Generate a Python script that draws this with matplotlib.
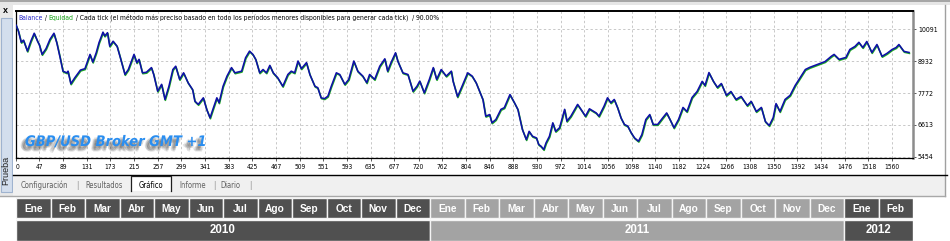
import matplotlib
matplotlib.use('Agg')
import matplotlib.pyplot as plt
import matplotlib.patheffects as pe
from matplotlib import font_manager as fm
from matplotlib.patches import Rectangle
from matplotlib.transforms import offset_copy

W, H = 950, 241

# ---------------- data ----------------
trade_no = [6, 10, 15, 19, 26, 32, 38, 44, 47, 52, 59, 66, 73, 78, 84, 89, 96, 98, 103, 110,
            120, 128, 137, 142, 148, 153, 160, 163, 168, 172, 178, 185, 190, 199, 205, 215, 220, 224, 230, 237,
            246, 250, 257, 264, 270, 277, 284, 289, 296, 303, 311, 319, 323, 329, 338, 344, 350, 355, 362, 366,
            373, 380, 388, 394, 406, 413, 420, 426, 431, 438, 444, 450, 456, 462, 470, 479, 488, 494, 500, 506,
            512, 521, 527, 536, 541, 547, 553, 559, 565, 574, 580, 589, 596, 605, 612, 621, 628, 633, 642, 651,
            660, 665, 671, 679, 683, 692, 701, 710, 717, 722, 730, 739, 746, 752, 760, 769, 778, 781, 789, 797,
            807, 811, 815, 822, 828, 834, 839, 846, 850, 857, 866, 872, 882, 890, 896, 904, 911, 916, 922, 929,
            933, 937, 942, 946, 952, 958, 963, 970, 979, 983, 990, 1002, 1008, 1016, 1023, 1030, 1035, 1040, 1049, 1055,
            1061, 1067, 1073, 1079, 1085, 1091, 1097, 1103, 1110, 1116, 1123, 1130, 1136, 1144, 1153, 1160, 1166, 1173, 1181, 1189,
            1196, 1205, 1214, 1223, 1228, 1235, 1243, 1250, 1257, 1266, 1274, 1283, 1292, 1303, 1310, 1319, 1328, 1335, 1342, 1349,
            1354, 1361, 1370, 1379, 1388, 1397, 1406, 1414, 1423, 1432, 1441, 1452, 1457, 1466, 1478, 1485, 1494, 1501, 1508, 1515,
            1524, 1533, 1542, 1551, 1560, 1567, 1572, 1581, 1590]
balance = [10240, 10030, 9620, 9700, 9300, 9660, 9950, 9660, 9540, 9180, 9390, 9730, 9950, 9610, 9060, 8570, 8510, 8570, 8110, 8330,
           8610, 8660, 9180, 8900, 9240, 9610, 9990, 9850, 9970, 9480, 9660, 9480, 9120, 8450, 8630, 9180, 8880, 9000, 8510, 8530,
           8700, 8450, 7840, 8090, 7540, 8020, 8630, 8750, 8270, 8510, 8150, 7900, 7480, 7360, 7600, 7180, 6870, 7180, 7600, 7420,
           8020, 8390, 8700, 8510, 8570, 9060, 9300, 9180, 9000, 8510, 8630, 8510, 8780, 8510, 8330, 8020, 8450, 8570, 8510, 8940,
           8660, 8880, 8450, 8020, 7970, 7600, 7570, 7660, 8020, 8510, 8450, 8090, 8270, 8940, 8570, 8390, 8150, 8450, 8270, 8750,
           9020, 8570, 8880, 9240, 8940, 8510, 8450, 7840, 8020, 8210, 7780, 8270, 8700, 8270, 8630, 8390, 8570, 8210, 7640, 8020,
           8510, 8450, 8390, 8150, 7840, 7540, 6930, 6990, 6690, 6810, 7180, 7240, 7720, 7420, 7180, 6450, 6080, 6380, 6200, 6140,
           5900, 5840, 5720, 5960, 6200, 6690, 6380, 6510, 7180, 6750, 6930, 7360, 7180, 6930, 7200, 7110, 7050, 6930, 7300, 7600,
           7420, 7540, 7240, 6870, 6630, 6570, 6330, 6140, 6020, 6260, 6810, 6990, 6630, 6630, 6870, 7050, 6810, 6510, 6810, 7250,
           7100, 7610, 7830, 8200, 8050, 8520, 8200, 7980, 8120, 7690, 7830, 7540, 7650, 7320, 7470, 7100, 7250, 6740, 6590, 6880,
           7390, 7100, 7540, 7690, 8050, 8340, 8630, 8710, 8780, 8850, 8920, 9110, 9180, 9000, 9070, 9360, 9470, 9620, 9430, 9650,
           9250, 9540, 9110, 9220, 9360, 9430, 9540, 9290, 9250]

ytick_values = [5454, 6613, 7772, 8932, 10091]
xtick_labels = ['0', '47', '89', '131', '173', '215', '257', '299', '341', '383', '425', '467', '509',
                '551', '593', '635', '677', '720', '762', '804', '846', '888', '930', '972', '1014',
                '1056', '1098', '1140', '1182', '1224', '1266', '1308', '1350', '1392', '1434', '1476',
                '1518', '1560']

legend_parts = ['Balance', ' / ', 'Equidad',
                ' / Cada tick (el método más preciso basado en todo los períodos menores disponibles para generar cada tick)  / 90.00%']
watermark = 'GBP/USD Broker GMT +1'
tab_names = ['Configuración', '|', 'Resultados', 'Gráfico', 'Informe', '|', 'Diario', '|']
side_label = 'Prueba'

months = ['Ene', 'Feb', 'Mar', 'Abr', 'May', 'Jun', 'Jul', 'Ago', 'Sep', 'Oct', 'Nov', 'Dec',
          'Ene', 'Feb', 'Mar', 'Abr', 'May', 'Jun', 'Jul', 'Ago', 'Sep', 'Oct', 'Nov', 'Dec',
          'Ene', 'Feb']
years = ['2010', '2011', '2012']
months_per_year = [12, 12, 2]


# ---------------- font choice ----------------
def pick_narrow():
    try:
        fm.findfont(fm.FontProperties(family='Liberation Sans Narrow'), fallback_to_default=False)
        return {'family': ['Liberation Sans Narrow', 'DejaVu Sans']}
    except Exception:
        pass
    try:
        f = fm.findfont(fm.FontProperties(family='DejaVu Sans', stretch='condensed'))
        if 'ondensed' in f:
            return {'family': ['DejaVu Sans'], 'fontstretch': 'condensed'}
    except Exception:
        pass
    return {'family': ['Liberation Sans', 'DejaVu Sans']}


NARROW = pick_narrow()
SANS = ['Liberation Sans', 'DejaVu Sans']
XMIN, XMAX = 5.7, 1597
YMIN, YMAX = 5420, 10760

fig = plt.figure(figsize=(W / 100, H / 100), dpi=100)
fig.patch.set_facecolor('white')

# background "window" in pixel coordinates
bg = fig.add_axes([0, 0, 1, 1], zorder=0)
bg.set_xlim(0, W)
bg.set_ylim(H, 0)
bg.axis('off')


def rect(x0, y0, x1, y1, **kw):
    bg.add_patch(Rectangle((x0, y0), x1 - x0, y1 - y0, **kw))


rect(0, 0, W, 2.2, color='#a6a6a6', lw=0)
rect(0, 2.2, W, 5, color='#e6e6e6', lw=0)
rect(0, 5, 13, 196, color='#e8e8e8', lw=0)
rect(0.8, 18, 11.5, 192, facecolor='#d3deed', edgecolor='#9fb3cf', lw=0.8)
rect(13, 5, 945, 175, color='white', lw=0)
bg.plot([945, 945], [5, 196], color='#a0a0a0', lw=1)
rect(13, 175, 945, 196, color='#f0f0f0', lw=0)
bg.plot([13, 947], [175, 175], color='black', lw=1)
bg.plot([0, 945], [196, 196], color='#a8a8a8', lw=1)
rect(131, 175.6, 171, 191, facecolor='white', edgecolor='none', lw=0)
bg.plot([131, 131, 171, 171], [191, 176, 176, 191], color='#202020', lw=0.9)
bg.text(5.5, 10.5, 'x', fontsize=6.5, fontweight='bold', ha='center', va='center', family=SANS)
bg.text(6, 170, side_label, fontsize=6.5, rotation=90, ha='center', va='center', color='#202020', family=SANS)

tab_x = [44.5, 77.5, 104, 150.5, 192.5, 214, 230.5, 250]
tab_texts = []
for name, tx in zip(tab_names, tab_x):
    col = 'black' if name == 'Gráfico' else '#606060'
    if name == '|':
        col = '#909090'
    tab_texts.append(bg.text(tx, 185.5, name, fontsize=6.3, ha='center', va='center', color=col, **NARROW))

# ---------------- main chart ----------------
ax = fig.add_axes([16 / W, 1 - 157.7 / H, (913 - 16) / W, (157.7 - 11) / H], zorder=2)
ax.set_facecolor('white')
ax.set_xlim(XMIN, XMAX)
ax.set_ylim(YMIN, YMAX)

green_tr = offset_copy(ax.transData, fig=fig, x=0.4, y=-0.9, units='dots')
ax.plot(trade_no, balance, color='#1fae1f', lw=1.15, transform=green_tr, zorder=3)
ax.plot(trade_no, balance, color='#0f0fa8', lw=1.15, zorder=4)

xtick_pos = [XMIN] + [int(v) for v in xtick_labels[1:]]
ax.set_xticks(xtick_pos)
ax.set_xticklabels(xtick_labels, fontsize=5.6, **NARROW)
ax.get_xticklabels()[0].set_horizontalalignment('left')
ax.yaxis.tick_right()
ax.set_yticks(ytick_values)
ax.set_yticklabels([str(v) for v in ytick_values], fontsize=5.9, **NARROW)
ax.tick_params(axis='x', length=2, width=0.6, pad=2.5, color='#404040')
ax.tick_params(axis='y', length=2, width=0.6, pad=1.5, color='#404040')
ax.grid(True, color='#c8c8c8', lw=0.7, linestyle=(0, (2.4, 2.4)))
ax.set_axisbelow(True)
for s in ['left', 'bottom']:
    ax.spines[s].set_color('black')
    ax.spines[s].set_linewidth(0.9)
ax.spines['top'].set_color('black')
ax.spines['top'].set_linewidth(1.4)
ax.spines['right'].set_color('#8c8c8c')
ax.spines['right'].set_linewidth(1.8)

# legend line
colors = ['#2828c8', 'black', '#10a010', 'black']
leg_texts = [ax.text(0.003, 0.955, legend_parts[0], transform=ax.transAxes, fontsize=5.6,
                     color=colors[0], va='center', ha='left', zorder=5, **NARROW)]
for part, c in zip(legend_parts[1:], colors[1:]):
    leg_texts.append(ax.annotate(part, xy=(1, 0), xycoords=leg_texts[-1], va='bottom', ha='left',
                                 fontsize=5.6, color=c, zorder=5, **NARROW))

# watermark with soft shadow
shadow = [pe.SimplePatchShadow(offset=(dx, dy), shadow_rgbFace='#303030', alpha=0.13)
          for dx, dy in [(-1, -1.5), (-2, -2.5), (-3, -3.5), (-2.5, -1.5), (-1.5, -3), (-3.5, -2.5), (-2, -4)]]
wm = fig.text(25 / W, 1 - 141.5 / H, watermark, fontsize=12.5, fontweight='bold',
              fontstyle='italic', color='#2a8ef0', ha='left', va='center', zorder=5,
              path_effects=shadow + [pe.Normal()], **NARROW)

# ---------------- calendar strip ----------------
cal = fig.add_axes([16 / W, 0, (913 - 16) / W, 43 / H], zorder=2)
cal.set_xlim(0, len(months))
cal.set_ylim(43, 0)
cal.axis('off')
year_colors = ['#505050', '#a3a3a3', '#505050']
start = 0
for yr, n, col in zip(years, months_per_year, year_colors):
    for i in range(n):
        k = start + i
        cal.bar(k + 0.5, 20, bottom=0, width=1, color=col, edgecolor='#f4f4f4', lw=1.0)
        cal.text(k + 0.5, 10.5, months[k], color='white', fontsize=7.3, fontweight='bold',
                 ha='center', va='center', family=SANS)
    cal.bar(start + n / 2, 21.5, bottom=21.5, width=n, color=col, edgecolor='#f4f4f4', lw=1.0)
    cal.text(start + n / 2, 32, yr, color='white', fontsize=8.3, fontweight='bold',
             ha='center', va='center', family=SANS)
    start += n

# ---------------- fit text widths to the reference ----------------
fig.canvas.draw()
r = fig.canvas.get_renderer()


def scale_group(texts, measured, target, lo=0.6, hi=1.3):
    f = max(lo, min(hi, target / measured))
    for t in texts:
        t.set_fontsize(t.get_fontsize() * f)


w_leg = leg_texts[-1].get_window_extent(r).x1 - leg_texts[0].get_window_extent(r).x0
scale_group(leg_texts, w_leg, 419)
scale_group([wm], wm.get_window_extent(r).width, 182)
scale_group(tab_texts, tab_texts[0].get_window_extent(r).width, 47.6, lo=0.8)
xl = ax.get_xticklabels()
w_x = xl[xtick_labels.index('1056')].get_window_extent(r).width
scale_group(xl, w_x, 13.5, lo=0.85)
yl = ax.get_yticklabels()
scale_group(yl, yl[-1].get_window_extent(r).width, 18, lo=0.85)

fig.savefig('out.png', dpi=100, facecolor='white')
